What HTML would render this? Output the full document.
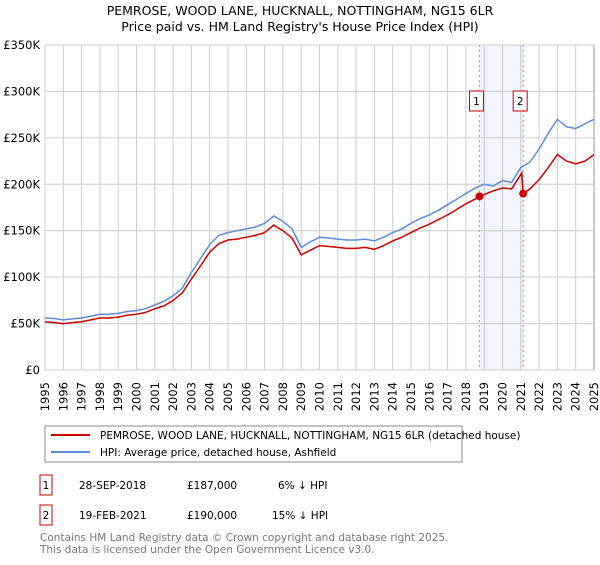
<!DOCTYPE html>
<html><head><meta charset="utf-8"><style>
body{margin:0;background:#fff;font-family:"Liberation Sans","DejaVu Sans",sans-serif;}
svg text{font-family:"DejaVu Sans","Liberation Sans",sans-serif;}
</style></head><body>
<svg id="c" width="600" height="560" xmlns="http://www.w3.org/2000/svg">
<text x="300" y="15" text-anchor="middle" font-size="12.5">PEMROSE, WOOD LANE, HUCKNALL, NOTTINGHAM, NG15 6LR</text>
<text x="300" y="31" text-anchor="middle" font-size="12.5">Price paid vs. HM Land Registry's House Price Index (HPI)</text>
<g id="grid"></g><g id="marks"></g><g id="axes"></g>
<g>
<rect x="45" y="426" width="417" height="36" fill="#fff" stroke="#888"/>
<line x1="51" y1="435" x2="90" y2="435" stroke="#cc0000" stroke-width="2"/>
<text x="100" y="439" font-size="10.5">PEMROSE, WOOD LANE, HUCKNALL, NOTTINGHAM, NG15 6LR (detached house)</text>
<line x1="51" y1="452" x2="90" y2="452" stroke="#5b8ed6" stroke-width="2"/>
<text x="100" y="456" font-size="10.5">HPI: Average price, detached house, Ashfield</text>
</g>
<g font-size="10.5">
<rect x="40" y="475" width="12" height="20" fill="#fff" stroke="#cc0000"/>
<text x="46" y="489" text-anchor="middle">1</text>
<text x="79" y="489">28-SEP-2018</text>
<text x="187" y="489">£187,000</text>
<text x="278" y="489">6% ↓ HPI</text>
<rect x="40" y="505" width="12" height="20" fill="#fff" stroke="#cc0000"/>
<text x="46" y="519" text-anchor="middle">2</text>
<text x="79" y="519">19-FEB-2021</text>
<text x="187" y="519">£190,000</text>
<text x="272" y="519">15% ↓ HPI</text>
</g>
<text x="40" y="541" font-size="10.5" fill="#777">Contains HM Land Registry data © Crown copyright and database right 2025.</text>
<text x="40" y="553" font-size="10.5" fill="#777">This data is licensed under the Open Government Licence v3.0.</text>
</svg>
<script>
const hpiYears=[1995,1995.5,1996,1996.5,1997,1997.5,1998,1998.5,1999,1999.5,2000,2000.5,2001,2001.5,2002,2002.5,2003,2003.5,2004,2004.5,2005,2005.5,2006,2006.5,2007,2007.5,2008,2008.5,2009,2009.5,2010,2010.5,2011,2011.5,2012,2012.5,2013,2013.5,2014,2014.5,2015,2015.5,2016,2016.5,2017,2017.5,2018,2018.5,2019,2019.5,2020,2020.5,2021,2021.5,2022,2022.5,2023,2023.5,2024,2024.5,2025];
const hpiValues=[56,55.5,54,55,56,58,60,60,61,63,64,66,70,74,80,88,105,120,135,145,148,150,152,154,158,166,160,152,132,138,143,142,141,140,140,141,139,143,148,152,158,163,167,172,178,184,190,196,200,198,204,202,218,224,238,255,270,262,260,265,270];
const propYears=[1995,1995.5,1996,1996.5,1997,1997.5,1998,1998.5,1999,1999.5,2000,2000.5,2001,2001.5,2002,2002.5,2003,2003.5,2004,2004.5,2005,2005.5,2006,2006.5,2007,2007.5,2008,2008.5,2009,2009.5,2010,2010.5,2011,2011.5,2012,2012.5,2013,2013.5,2014,2014.5,2015,2015.5,2016,2016.5,2017,2017.5,2018,2018.5,2018.74,2019,2019.5,2020,2020.5,2021.05,2021.13,2021.5,2022,2022.5,2023,2023.5,2024,2024.5,2025];
const propValues=[52,51,50,51,52,54,56,56,57,59,60,62,66,69,75,83,98,112,127,136,140,141,143,145,148,156,150,142,124,129,134,133,132,131,131,132,130,134,139,143,148,153,157,162,167,173,179,184,187,189,193,196,195,212,190,195,205,218,232,225,222,225,232];
const saleYears=[2018.74,2021.13];
const salePrices=[187,190];
const yTicks=[0,50,100,150,200,250,300,350];
const xTicks=[1995,1996,1997,1998,1999,2000,2001,2002,2003,2004,2005,2006,2007,2008,2009,2010,2011,2012,2013,2014,2015,2016,2017,2018,2019,2020,2021,2022,2023,2024,2025];
const L=45,R=594,T=45,B=370;
const x=v=>L+(v-1995)/30*(R-L);
const y=v=>B-v/350*(B-T);
const NS='http://www.w3.org/2000/svg';
function mk(tag,parent,attrs){const e=document.createElementNS(NS,tag);for(const k in attrs)e.setAttribute(k,attrs[k]);document.getElementById(parent).appendChild(e);return e;}
let band=mk('rect','grid',{x:x(saleYears[0]),y:T,width:x(saleYears[1])-x(saleYears[0]),height:B-T,fill:'#e8effb',opacity:0.6});


yTicks.forEach(t=>{
 let g=mk('line','grid',{x1:L,x2:R,y1:y(t),y2:y(t),stroke:'#cccccc'});
 
 
 let tx=mk('text','axes',{x:L-5,y:y(t)+4,'text-anchor':'end','font-size':'11.5'});
 tx.textContent='£'+(t===0?'0':t+'K');
 
 
});
xTicks.forEach(t=>{
 let g=mk('line','grid',{x1:x(t),x2:x(t),y1:T,y2:B,stroke:'#cccccc'});
 
 
 let px=x(t)+4,py=B+12;
 let tx=mk('text','axes',{x:px,y:py,'text-anchor':'end','font-size':'11.5',transform:'rotate(-90 '+px+' '+py+')'});
 tx.textContent=t;
 
 
});
let rb=mk('line','grid',{x1:R,x2:R,y1:T,y2:B,stroke:'#999'});


saleYears.forEach((s,i)=>{
 let d=mk('line','grid',{x1:x(s),x2:x(s),y1:T,y2:B,stroke:'#ff7777','stroke-dasharray':'2,3'});
 
 
});
function path(xs,vs){return xs.map((v,i)=>(i?'L':'M')+x(v).toFixed(1)+','+y(vs[i]).toFixed(1)).join('');}
let hp=mk('path','marks',{d:path(hpiYears,hpiValues),fill:'none',stroke:'#5b8ed6','stroke-width':1.5});


let pp=mk('path','marks',{d:path(propYears,propValues),fill:'none',stroke:'#cc0000','stroke-width':1.5});


saleYears.forEach((s,i)=>{
 let c=mk('circle','marks',{cx:x(s),cy:y(salePrices[i]),r:4,fill:'#cc0000'});
 
 
 let r=mk('rect','marks',{x:x(s)-10,y:91,width:14,height:20,fill:'#fff',stroke:'#cc0000'});
 
 
 let t=mk('text','marks',{x:x(s)-3,y:105,'text-anchor':'middle','font-size':'10.5'});
 t.textContent=String(i+1);
 
 
});
</script>
</body></html>
